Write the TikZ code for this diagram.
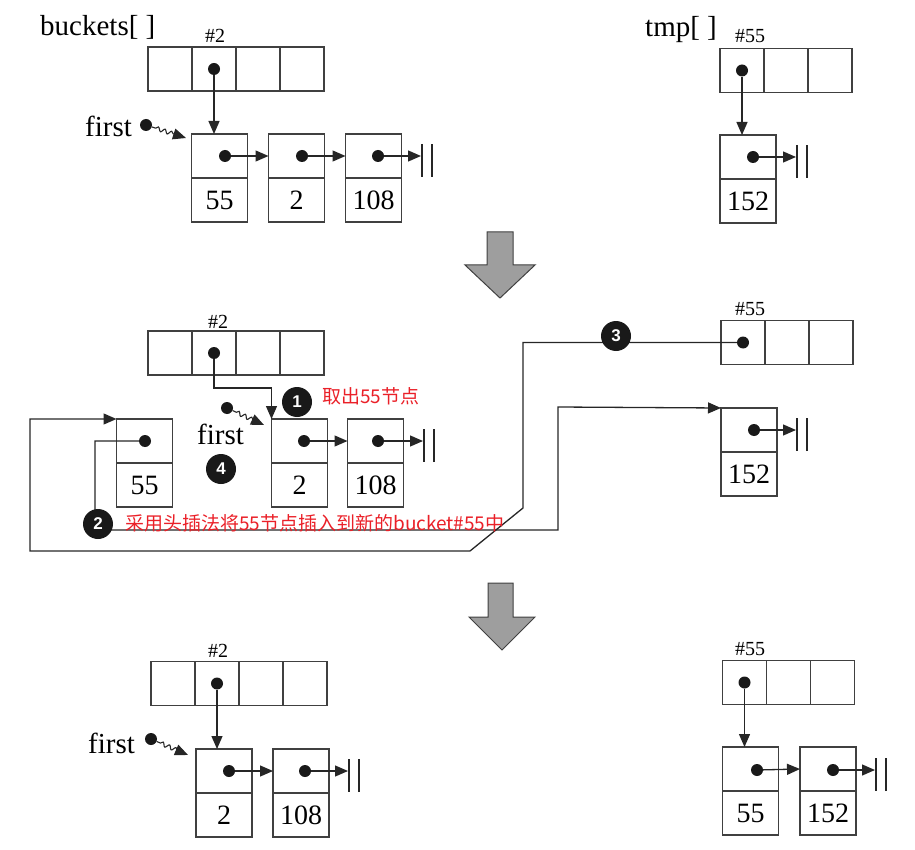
\documentclass[tikz,border=0pt]{standalone}
\usepackage{fontspec}
\setmainfont{Liberation Serif}
\newfontfamily\cjk{Noto Sans CJK SC}
\newfontfamily\badgefont{Liberation Sans}
\usetikzlibrary{positioning,arrows.meta,decorations.pathmorphing}
\definecolor{notered}{RGB}{234,32,40}

\begin{document}
\begin{tikzpicture}[x=1pt,y=-1pt,
  cell/.style={draw=black!75,line width=1.3pt,minimum width=44pt,minimum height=44pt,inner sep=0pt,outer sep=0pt},
  nxt/.style={cell,minimum width=56pt},
  val/.style={nxt,font=\fontsize{28}{30}\selectfont},
  dot/.style={circle,fill=black!90,inner sep=0pt,minimum size=12pt},
  link/.style={draw=black!85,line width=1.3pt,-{Triangle[length=13pt,width=11pt]}},
  nilbar/.style={draw=black!85,line width=1.3pt},
  lbl/.style={anchor=base west,inner sep=0pt,font=\fontsize{29}{31}\selectfont},
  idx/.style={anchor=base west,inner sep=0pt,font=\fontsize{20}{22}\selectfont},
  badge/.style={circle,fill=black!90,text=white,inner sep=0pt,minimum size=30pt,font=\badgefont\bfseries\fontsize{17}{17}\selectfont},
  note/.style={anchor=west,inner sep=0pt,text=notered,font=\cjk\fontsize{19}{21}\selectfont},
  squig/.style={draw=black!85,line width=1.1pt,decorate,decoration={snake,amplitude=2pt,segment length=7pt,pre length=4pt,post length=11pt},-{Triangle[length=13pt,width=11pt]}},
  bigdown/.style={draw=black!75,fill=black!38,line width=1pt}]
\useasboundingbox (0,0) rectangle (915,850);

% before
\node[lbl] (bk) at (40,36) {buckets[ ]};
\node[idx] (h2a) at (205,43) {\#2};
\node[cell] (A1) at (170,69) {};
\node[cell,right=0pt of A1] (A2) {};
\node[cell,right=0pt of A2] (A3) {};
\node[cell,right=0pt of A3] (A4) {};
\node[dot] (a2) at (A2) {};

\node[nxt] (P55a) at (219.5,156) {};
\node[val,below=0pt of P55a] (V55a) {55};
\node[nxt] (P2a) at (296.5,156) {};
\node[val,below=0pt of P2a] (V2a) {2};
\node[nxt] (P108a) at (373.5,156) {};
\node[val,below=0pt of P108a] (V108a) {108};
\node[dot] (d55a) at (225,156) {};
\node[dot] (d2a) at (302,156) {};
\node[dot] (d108a) at (378,156) {};
\coordinate (nil1) at (421,156);

\draw[link] (a2) -- (a2 |- P55a.north);
\draw[link] (d55a) -- (P2a.west);
\draw[link] (d2a) -- (P108a.west);
\draw[link] (d108a) -- (nil1);
\draw[nilbar] (nil1) ++(1,-12) -- ++(0,33) ++(10,0) -- ++(0,-33);

\node[lbl] (fa) at (85,137) {first};
\node[dot] (fda) at (146,125) {};
\coordinate (fta) at (186,138);
\draw[squig] (fda) -- (fta);

\node[lbl] (tp) at (645,37) {tmp[ ]};
\node[idx] (h55a) at (735,43) {\#55};
\node[cell] (T1) at (742,70.5) {};
\node[cell,right=0pt of T1] (T2) {};
\node[cell,right=0pt of T2] (T3) {};
\node[dot] (t1) at (T1) {};
\node[nxt] (P152a) at (748,157) {};
\node[val,below=0pt of P152a] (V152a) {152};
\node[dot] (d152a) at (753,157) {};
\coordinate (nil2) at (796,157);
\draw[link] (t1) -- (t1 |- P152a.north);
\draw[link] (d152a) -- (nil2);
\draw[nilbar] (nil2) ++(1,-12) -- ++(0,33) ++(10,0) -- ++(0,-33);

\draw[bigdown] (487,232) -- (513,232) -- (513,265) -- (535,265) -- (500,298) -- (465,265) -- (487,265) -- cycle;

% during
\node[idx] (h2b) at (208,328) {\#2};
\node[cell] (B1) at (170,353) {};
\node[cell,right=0pt of B1] (B2) {};
\node[cell,right=0pt of B2] (B3) {};
\node[cell,right=0pt of B3] (B4) {};
\node[dot] (b2) at (B2) {};

\node[nxt] (P55b) at (144.5,441) {};
\node[val,below=0pt of P55b] (V55b) {55};
\node[nxt] (P2b) at (299.5,441) {};
\node[val,below=0pt of P2b] (V2b) {2};
\node[nxt] (P108b) at (375.5,441) {};
\node[val,below=0pt of P108b] (V108b) {108};
\node[dot] (d55b) at (145,441) {};
\node[dot] (d2b) at (304,441) {};
\node[dot] (d108b) at (378,441) {};
\coordinate (nil3) at (423,441);

\draw[link] (b2) -- (214,388) -- (271.5,388) -- (P2b.north west);
\draw[link] (d2b) -- (P108b.west);
\draw[link] (d108b) -- (nil3);
\draw[nilbar] (nil3) ++(1,-12) -- ++(0,33) ++(10,0) -- ++(0,-33);

\node[lbl] (fb) at (197,444) {first};
\node[dot] (fdb) at (227,408) {};
\coordinate (ftb) at (264,425);
\draw[squig] (fdb) -- (ftb);

\node[idx] (h55b) at (735,315) {\#55};
\node[cell] (C1) at (743,342.5) {};
\node[cell,right=0pt of C1] (C2) {};
\node[cell,right=0pt of C2] (C3) {};
\node[dot] (c1) at (C1) {};
\node[nxt] (P152b) at (749,430) {};
\node[val,below=0pt of P152b] (V152b) {152};
\node[dot] (d152b) at (754,430) {};
\coordinate (nil4) at (796,430);
\draw[link] (d152b) -- (nil4);
\draw[nilbar] (nil4) ++(1,-12) -- ++(0,33) ++(10,0) -- ++(0,-33);

\draw[link] (d55b) -- (95,441) -- (95,530) -- (558,530) -- (558,407) -- (P152b.north west);
\draw[link] (c1) -- (523,342.5) -- (523,508) -- (470,551) -- (30,551) -- (30,419) -- (P55b.north west);

\node[badge] (n1) at (297,402) {1};
\node[badge] (n2) at (98,524) {2};
\node[badge] (n3) at (616,336) {3};
\node[badge] (n4) at (221,469) {4};
\node[note] (m1) at (322,396) {取出55节点};
\node[note] (m2) at (125,523) {采用头插法将55节点插入到新的bucket\#55中};

\draw[bigdown] (488,583) -- (513,583) -- (513,617) -- (535,617) -- (502,650) -- (469,617) -- (488,617) -- cycle;

% after
\node[idx] (h2c) at (208,657) {\#2};
\node[cell] (E1) at (173,683.5) {};
\node[cell,right=0pt of E1] (E2) {};
\node[cell,right=0pt of E2] (E3) {};
\node[cell,right=0pt of E3] (E4) {};
\node[dot] (e2) at (E2) {};

\node[nxt] (P2c) at (224,771) {};
\node[val,below=0pt of P2c] (V2c) {2};
\node[nxt] (P108c) at (301,771) {};
\node[val,below=0pt of P108c] (V108c) {108};
\node[dot] (d2c) at (229,771) {};
\node[dot] (d108c) at (305,771) {};
\coordinate (nil5) at (348,771);

\draw[link] (e2) -- (e2 |- P2c.north);
\draw[link] (d2c) -- (P108c.west);
\draw[link] (d108c) -- (nil5);
\draw[nilbar] (nil5) ++(1,-12) -- ++(0,33) ++(10,0) -- ++(0,-33);

\node[lbl] (fc) at (88,753) {first};
\node[dot] (fdc) at (151,739) {};
\coordinate (ftc) at (188,755);
\draw[squig] (fdc) -- (ftc);

\node[idx] (h55c) at (735,655) {\#55};
\node[cell] (F1) at (744.5,682.5) {};
\node[cell,right=0pt of F1] (F2) {};
\node[cell,right=0pt of F2] (F3) {};
\node[dot] (f1) at (F1) {};
\node[nxt] (P55c) at (750.5,769) {};
\node[val,below=0pt of P55c] (V55c) {55};
\node[nxt] (P152c) at (828,769) {};
\node[val,below=0pt of P152c] (V152c) {152};
\node[dot] (d55c) at (757,770) {};
\node[dot] (d152c) at (833,770) {};
\coordinate (nil6) at (875,770);

\draw[link] (f1) -- (f1 |- P55c.north);
\draw[link] (d55c) -- (P152c.west);
\draw[link] (d152c) -- (nil6);
\draw[nilbar] (nil6) ++(1,-12) -- ++(0,33) ++(10,0) -- ++(0,-33);

\end{tikzpicture}
\end{document}
